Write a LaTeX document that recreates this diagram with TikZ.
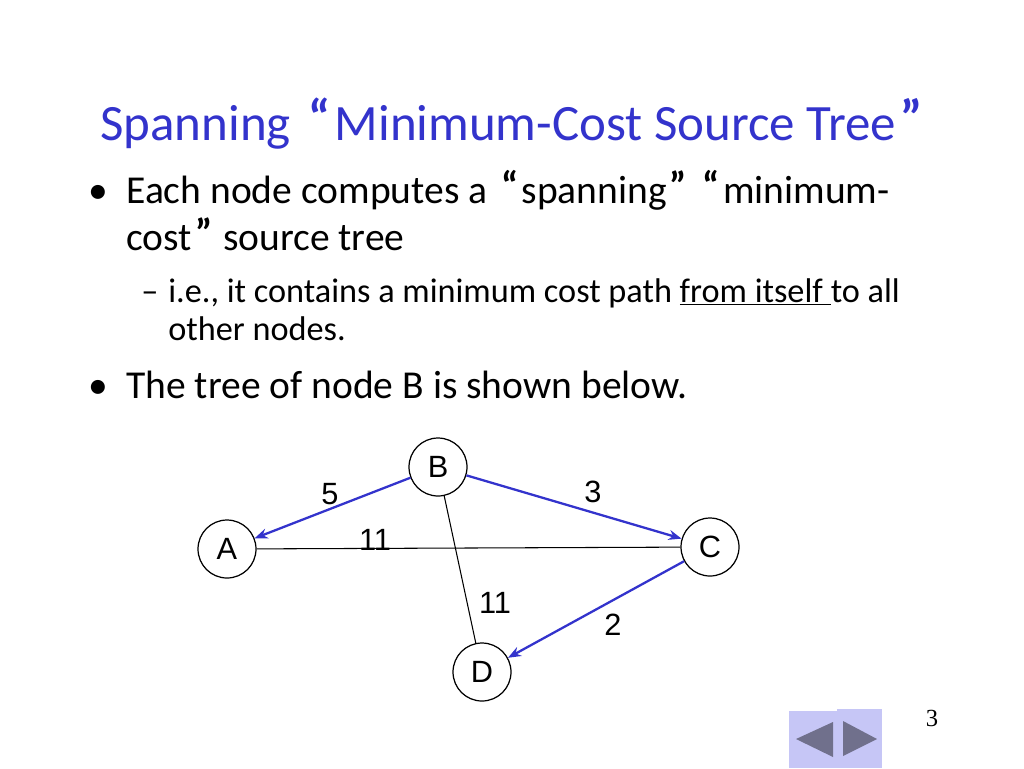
\documentclass[tikz,border=0pt]{standalone}
\usepackage{fontspec}
\setmainfont{Carlito}
\newfontfamily\graphfont{Liberation Sans}
\newfontfamily\pagefont{Liberation Serif}
\usetikzlibrary{arrows.meta}
\definecolor{SlideBlue}{HTML}{3333CC}
\definecolor{NavFill}{HTML}{C6C6F6}
\definecolor{NavInk}{HTML}{70708C}
% raised, heavy quote marks as on the slide
\newcommand{\oquote}{\hspace{0.12em}\raisebox{0.2ex}{\bfseries “}\hspace{0.08em}}
\newcommand{\cquote}{\hspace{0.08em}\raisebox{0.2ex}{\bfseries ”}\hspace{0.05em}}
\tikzset{
  every node/.style={inner sep=0pt},
  headline/.style={font=\fontsize{29}{35}\selectfont, text=SlideBlue, anchor=base west},
  bullettext/.style={font=\fontsize{22.5}{27}\selectfont, anchor=base west},
  subtext/.style={font=\fontsize{19.5}{23}\selectfont, anchor=base west},
  vertex/.style={circle, draw, line width=0.7pt, minimum size=1.16cm, fill=white, font=\graphfont\fontsize{17.5}{20}\selectfont},
  cost/.style={font=\graphfont\fontsize{17.5}{20}\selectfont},
  treeedge/.style={-{Stealth[length=2.6mm,width=2mm]}, draw=SlideBlue, line width=1.3pt},
  plainedge/.style={draw=black, line width=0.6pt},
}

\begin{document}
\begin{tikzpicture}[x=0.02cm,y=-0.02cm]
  % Slide frame: 1024 x 768 px, y runs downward
  \useasboundingbox (0,0) rectangle (1024,768);
  % Title
  \node[headline] (title) at (100,140) {Spanning \oquote Minimum-Cost Source Tree\cquote};
  % Bullets
  \node[bullettext] (dotA) at (88,203) {•};
  \node[bullettext] (lineA) at (126,203) {Each node computes a \oquote spanning\cquote\ \oquote minimum-};
  \node[bullettext] (lineB) at (126,250) {cost\cquote\ source tree};
  \node[subtext] (dash) at (141,302) {–};
  \node[subtext] (lineC) at (168,302) {i.e., it contains a minimum cost path \underline{from itself\ }to all};
  \node[subtext] (lineD) at (168,340) {other nodes.};
  \node[bullettext] (dotB) at (88,398) {•};
  \node[bullettext] (lineE) at (126,398) {The tree of node B is shown below.};
  % Graph: source tree of node B
  \node[vertex] (A) at (227,549) {A};
  \node[vertex] (B) at (438,467) {B};
  \node[vertex] (C) at (710,547) {C};
  \node[vertex] (D) at (482,672) {D};
  \draw[plainedge] (A) -- (C);
  \draw[plainedge] (B) -- (D);
  \draw[treeedge] (B) -- (A);
  \draw[treeedge] (B) -- (C);
  \draw[treeedge] (C) -- (D);
  \node[cost] (costBA) at (330,494) {5};
  \node[cost] (costBC) at (593,492) {3};
  \node[cost] (costAC) at (375,540) {11};
  \node[cost] (costBD) at (495,603) {11};
  \node[cost] (costCD) at (613,625) {2};
  % Page number and navigation buttons
  \node[font=\pagefont\fontsize{14}{16}\selectfont] (page) at (932,718) {3};
  \fill[NavFill] (789,711) rectangle (838,768);
  \fill[NavFill] (837,709) rectangle (882,768);
  \fill[NavInk] (796,739) -- (833,722) -- (833,757) -- cycle;
  \fill[NavInk] (877,739) -- (843,721) -- (843,756) -- cycle;
\end{tikzpicture}
\end{document}
